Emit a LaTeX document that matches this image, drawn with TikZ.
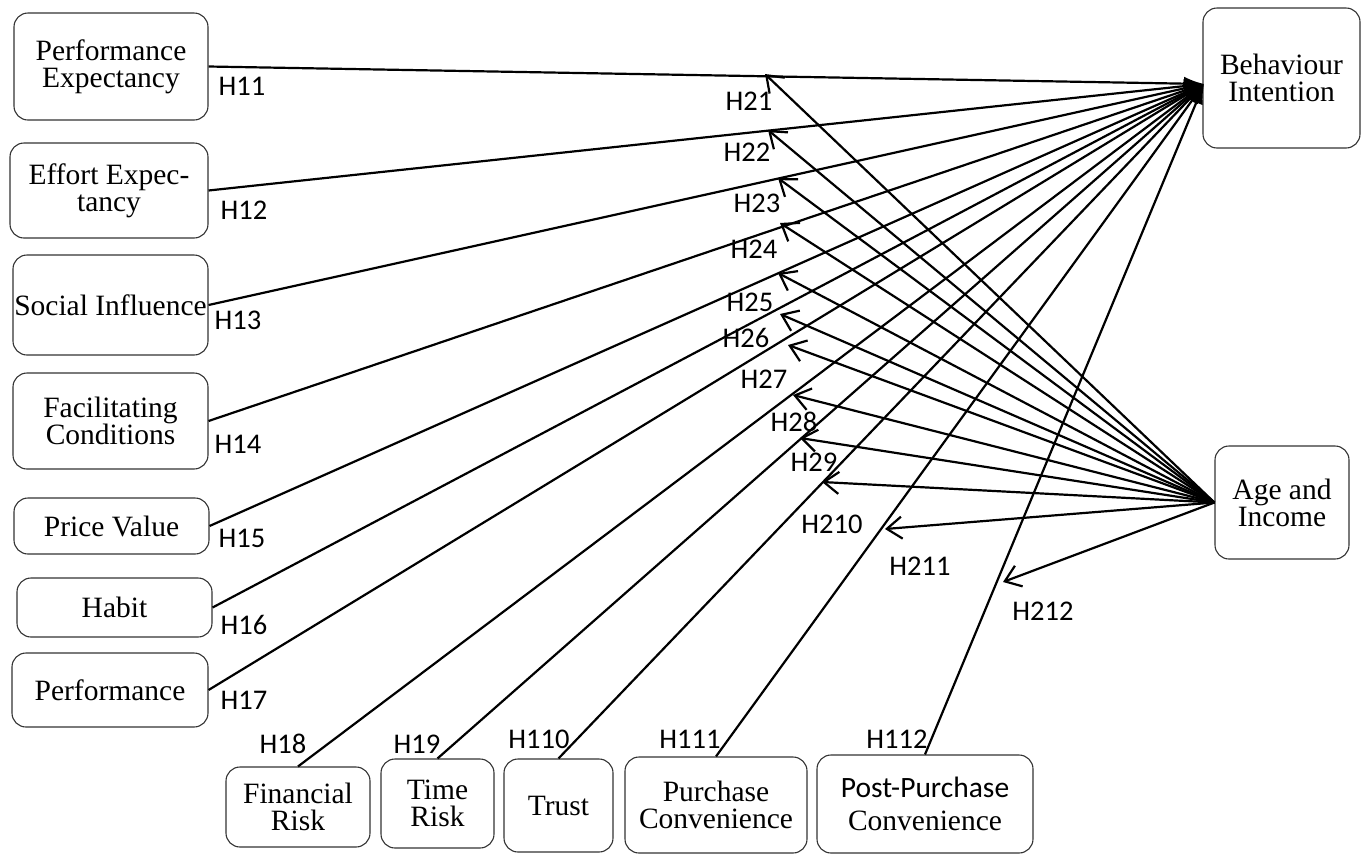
\documentclass[tikz,border=0pt]{standalone}
\usepackage{fontspec}
\setmainfont{Liberation Serif}
\newfontfamily\lab{Carlito}
\usetikzlibrary{arrows.meta}
\begin{document}
\begin{tikzpicture}[x=1pt,y=-1pt,
  box/.style={draw=black!80, line width=1.1pt, rounded corners=14pt, align=center, inner sep=0pt, font=\fontsize{29.5}{27}\selectfont},
  hl/.style={font=\lab\fontsize{28.5}{28}\selectfont, inner sep=0pt},
  toBI/.style={line width=2.2pt, -{Latex[length=20pt,width=14pt]}},
  toH/.style={line width=2.2pt, -{Straight Barb[length=15pt,width=22pt,line width=2.2pt]}},
]
\useasboundingbox (0,0) rectangle (1361,855);

% boxes
\node[box, minimum width=194pt, minimum height=107pt] (pe) at (111,66.5) {Performance\\Expectancy};
\node[box, minimum width=198pt, minimum height=95pt] (ee) at (109,190.5) {Effort Expec-\\tancy};
\node[box, minimum width=195pt, minimum height=100pt] (si) at (110.5,305) {Social Influence};
\node[box, minimum width=195pt, minimum height=96pt] (fc) at (110.5,421) {Facilitating\\Conditions};
\node[box, minimum width=195pt, minimum height=56pt] (pv) at (111.5,526) {Price Value};
\node[box, minimum width=195pt, minimum height=59pt] (hb) at (114.5,607.5) {Habit};
\node[box, minimum width=196pt, minimum height=74pt] (pf) at (110,690) {Performance};
\node[box, minimum width=144pt, minimum height=80pt] (fr) at (298,807) {Financial\\Risk};
\node[box, minimum width=113pt, minimum height=89pt] (tr) at (437.5,803.5) {Time\\Risk};
\node[box, minimum width=109pt, minimum height=93pt] (tu) at (558.5,805.5) {Trust};
\node[box, minimum width=182pt, minimum height=96pt] (pc) at (716,805) {Purchase\\Convenience};
\node[box, minimum width=216pt, minimum height=98pt] (ppc) at (925,804) {{\lab Post-Purchase}\\[6pt]Convenience};
\node[box, minimum width=157pt, minimum height=140pt] (bi) at (1281.5,78) {Behaviour\\Intention};
\node[box, minimum width=134pt, minimum height=113pt] (ai) at (1282,502.5) {Age and\\Income};

% connectors to Behaviour Intention
\coordinate (bitip) at (1204,84);
\foreach \n in {pe,ee,si,fc,pv,hb,pf} \draw[toBI] (\n.east) -- (bitip);
\foreach \n in {fr,tr,tu,pc,ppc} \draw[toBI] (\n.north) -- (bitip);

% moderating arrows from Age and Income
\coordinate (t21) at (765,74);
\coordinate (t22) at (768,130);
\coordinate (t23) at (778,178);
\coordinate (t24) at (780,223);
\coordinate (t25) at (778,273);
\coordinate (t26) at (780,314);
\coordinate (t27) at (788,345);
\coordinate (t28) at (793,395);
\coordinate (t29) at (800,438);
\coordinate (t210) at (822,482);
\coordinate (t211) at (885,529);
\coordinate (t212) at (1003,582);
\foreach \n in {21,22,23,24,25,26,27,28,29,210,211,212} \draw[toH] (ai.west) -- (t\n);

% labels
\node[hl] (h11) at (242,86) {H11};
\node[hl] (h12) at (244,210) {H12};
\node[hl] (h13) at (238,320) {H13};
\node[hl] (h14) at (238,444) {H14};
\node[hl] (h15) at (242,538) {H15};
\node[hl] (h16) at (244,625) {H16};
\node[hl] (h17) at (244,700) {H17};
\node[hl] (h18) at (283,744) {H18};
\node[hl] (h19) at (417,744) {H19};
\node[hl] (h110) at (539,739) {H110};
\node[hl] (h111) at (690,739) {H111};
\node[hl] (h112) at (897,739) {H112};
\node[hl] (h21) at (749,101) {H21};
\node[hl] (h22) at (747,152) {H22};
\node[hl] (h23) at (757,203) {H23};
\node[hl] (h24) at (754,249) {H24};
\node[hl] (h25) at (750,302) {H25};
\node[hl] (h26) at (746,338) {H26};
\node[hl] (h27) at (764,379) {H27};
\node[hl] (h28) at (794,422) {H28};
\node[hl] (h29) at (814,462) {H29};
\node[hl] (h210) at (832,524) {H210};
\node[hl] (h211) at (920,566) {H211};
\node[hl] (h212) at (1043,611) {H212};
\end{tikzpicture}
\end{document}
